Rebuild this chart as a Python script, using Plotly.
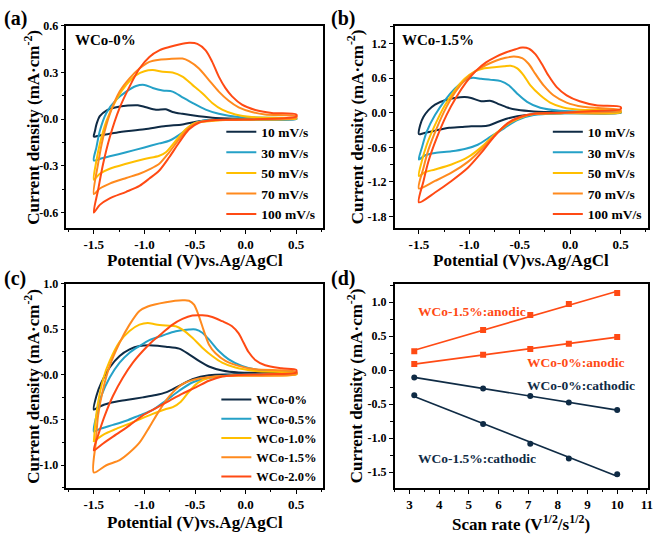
import numpy as np
import plotly.graph_objects as go

W, H = 661, 534
FONT = "Liberation Serif"

NAVY = "#0f2b45"
TEAL = "#25a1c7"
YELLOW = "#ffbf00"
ORANGE = "#ff8a1e"
RED = "#ff4a14"
COLORS5 = [NAVY, TEAL, YELLOW, ORANGE, RED]

# ---------------- panel (a) : WCo-0%, scan rates ----------------
rate_labels = ["10 mV/s", "30 mV/s", "50 mV/s", "70 mV/s", "100 mV/s"]

a10_v = [-1.5, -1.49, -1.474, -1.441, -1.376, -1.278, -1.163, -1.065, -0.984, -0.886, -0.788, -0.722, -0.624, -0.461, -0.297, 0.029, 0.5,
         0.5, -0.297, -0.46, -0.624, -0.788, -1.0, -1.278, -1.44, -1.5]
a10_j = [-0.112, -0.08, -0.034, 0.019, 0.055, 0.076, 0.087, 0.089, 0.076, 0.061, 0.063, 0.046, 0.034, 0.019, 0.008, 0.002, 0.002,
         0.0, -0.002, -0.013, -0.034, -0.044, -0.065, -0.087, -0.105, -0.112]

a30_v = [-1.5, -1.474, -1.441, -1.376, -1.278, -1.18, -1.082, -1.0, -0.918, -0.82, -0.722, -0.624, -0.526, -0.395, -0.265, -0.069, 0.5,
         0.5, -0.134, -0.428, -0.526, -0.624, -0.755, -0.853, -1.0, -1.18, -1.343, -1.441, -1.5]
a30_j = [-0.266, -0.18, -0.076, 0.04, 0.125, 0.177, 0.213, 0.22, 0.2, 0.184, 0.177, 0.14, 0.104, 0.061, 0.034, 0.013, 0.004,
         0.0, -0.004, -0.011, -0.034, -0.087, -0.139, -0.156, -0.182, -0.213, -0.239, -0.256, -0.266]

a50_v = [-1.5, -1.474, -1.441, -1.376, -1.278, -1.18, -1.082, -1.0, -0.918, -0.82, -0.722, -0.624, -0.526, -0.428, -0.33, -0.232, -0.101, 0.062, 0.5,
         0.5, -0.134, -0.363, -0.493, -0.592, -0.69, -0.788, -0.853, -1.0, -1.18, -1.343, -1.441, -1.5]
a50_j = [-0.389, -0.266, -0.16, -0.013, 0.125, 0.22, 0.283, 0.308, 0.315, 0.304, 0.3, 0.273, 0.22, 0.167, 0.104, 0.061, 0.03, 0.013, 0.004,
         0.002, -0.004, -0.013, -0.023, -0.065, -0.139, -0.213, -0.235, -0.256, -0.287, -0.319, -0.351, -0.389]

a70_v = [-1.5, -1.458, -1.408, -1.343, -1.245, -1.147, -1.049, -0.951, -0.853, -0.755, -0.624, -0.559, -0.461, -0.363, -0.265, -0.167, -0.069, 0.062, 0.193, 0.5,
         0.5, -0.134, -0.461, -0.559, -0.657, -0.755, -0.853, -0.951, -1.049, -1.18, -1.343, -1.441, -1.5]
a70_j = [-0.482, -0.287, -0.118, 0.03, 0.177, 0.262, 0.325, 0.368, 0.382, 0.387, 0.389, 0.372, 0.325, 0.251, 0.177, 0.118, 0.076, 0.046, 0.03, 0.019,
         0.008, -0.004, -0.019, -0.055, -0.129, -0.213, -0.287, -0.323, -0.351, -0.378, -0.414, -0.446, -0.482]

a100_v = [-1.5, -1.458, -1.408, -1.343, -1.245, -1.147, -1.049, -0.951, -0.853, -0.755, -0.657, -0.559, -0.477, -0.395, -0.33, -0.265, -0.199, -0.134, -0.036, 0.095, 0.258, 0.5,
          0.5, -0.134, -0.297, -0.461, -0.559, -0.657, -0.755, -0.853, -0.951, -1.049, -1.18, -1.343, -1.441, -1.5]
a100_j = [-0.6, -0.456, -0.287, -0.118, 0.072, 0.209, 0.325, 0.4, 0.442, 0.463, 0.48, 0.49, 0.484, 0.442, 0.368, 0.273, 0.199, 0.146, 0.093, 0.059, 0.04, 0.03,
          0.017, -0.004, -0.006, -0.023, -0.065, -0.15, -0.245, -0.33, -0.382, -0.429, -0.467, -0.509, -0.551, -0.6]

# ---------------- panel (b) : WCo-1.5%, scan rates ----------------
b10_v = [-1.5, -1.487, -1.454, -1.405, -1.34, -1.242, -1.144, -1.046, -0.981, -0.883, -0.785, -0.72, -0.622, -0.524, -0.361, -0.1, 0.5,
         0.5, -0.1, -0.361, -0.524, -0.622, -0.72, -0.8, -0.883, -0.98, -1.08, -1.2, -1.34, -1.454, -1.5]
b10_j = [-0.37, -0.21, -0.07, 0.046, 0.143, 0.217, 0.257, 0.274, 0.257, 0.2, 0.206, 0.16, 0.091, 0.051, 0.023, 0.011, 0.011,
         0.0, -0.006, -0.025, -0.06, -0.1, -0.16, -0.215, -0.235, -0.232, -0.246, -0.26, -0.31, -0.355, -0.37]

b30_v = [-1.5, -1.471, -1.422, -1.34, -1.242, -1.144, -1.046, -0.965, -0.883, -0.785, -0.688, -0.606, -0.524, -0.427, -0.296, -0.1, 0.5,
         0.5, -0.1, -0.361, -0.524, -0.655, -0.785, -0.916, -1.046, -1.177, -1.34, -1.438, -1.5]
b30_j = [-0.81, -0.61, -0.326, -0.04, 0.217, 0.417, 0.56, 0.606, 0.589, 0.571, 0.549, 0.474, 0.331, 0.189, 0.086, 0.034, 0.006,
         0.0, -0.011, -0.04, -0.126, -0.269, -0.411, -0.554, -0.629, -0.669, -0.697, -0.737, -0.81]

b50_v = [-1.5, -1.471, -1.422, -1.34, -1.242, -1.144, -1.046, -0.949, -0.851, -0.753, -0.655, -0.59, -0.524, -0.459, -0.394, -0.296, -0.198, -0.068, 0.095, 0.5,
         0.5, -0.1, -0.361, -0.492, -0.622, -0.753, -0.883, -1.014, -1.177, -1.34, -1.438, -1.5]
b50_j = [-1.097, -0.84, -0.554, -0.211, 0.131, 0.389, 0.589, 0.714, 0.771, 0.789, 0.806, 0.817, 0.771, 0.646, 0.474, 0.303, 0.177, 0.091, 0.051, 0.029,
         0.006, -0.006, -0.023, -0.086, -0.2, -0.383, -0.6, -0.771, -0.897, -0.983, -1.03, -1.097]

b70_v = [-1.5, -1.454, -1.405, -1.324, -1.226, -1.128, -1.03, -0.932, -0.834, -0.737, -0.639, -0.557, -0.476, -0.41, -0.345, -0.263, -0.166, -0.035, 0.128, 0.5,
         0.5, -0.1, -0.361, -0.492, -0.622, -0.753, -0.883, -1.014, -1.177, -1.34, -1.5]
b70_j = [-1.314, -0.954, -0.64, -0.269, 0.103, 0.389, 0.589, 0.731, 0.829, 0.903, 0.954, 0.977, 0.949, 0.846, 0.674, 0.474, 0.303, 0.177, 0.103, 0.046,
         0.029, -0.006, -0.023, -0.08, -0.194, -0.4, -0.64, -0.851, -1.04, -1.183, -1.314]

b100_v = [-1.5, -1.454, -1.405, -1.324, -1.226, -1.128, -1.03, -0.932, -0.834, -0.737, -0.639, -0.541, -0.476, -0.41, -0.345, -0.28, -0.215, -0.133, -0.035, 0.095, 0.259, 0.5,
          0.5, 0.226, -0.1, -0.361, -0.492, -0.622, -0.753, -0.883, -1.014, -1.177, -1.34, -1.5]
b100_j = [-1.554, -1.183, -0.84, -0.44, -0.04, 0.274, 0.531, 0.731, 0.874, 0.971, 1.046, 1.103, 1.131, 1.114, 1.017, 0.846, 0.646, 0.446, 0.303, 0.2, 0.131, 0.103,
          0.063, 0.029, 0.0, -0.017, -0.069, -0.183, -0.411, -0.697, -0.954, -1.183, -1.383, -1.554]

# ---------------- panel (c) : different Co contents ----------------
sample_labels = ["WCo-0%", "WCo-0.5%", "WCo-1.0%", "WCo-1.5%", "WCo-2.0%"]

c00_v = [-1.5, -1.474, -1.425, -1.343, -1.245, -1.147, -1.049, -0.918, -0.788, -0.657, -0.559, -0.461, -0.363, -0.232, -0.069, 0.5,
         0.5, -0.134, -0.363, -0.526, -0.657, -0.788, -0.886, -1.016, -1.18, -1.343, -1.458, -1.5]
c00_j = [-0.387, -0.234, -0.088, 0.077, 0.204, 0.277, 0.314, 0.321, 0.307, 0.285, 0.223, 0.15, 0.088, 0.044, 0.022, 0.015,
         0.004, 0.0, -0.007, -0.051, -0.124, -0.197, -0.226, -0.252, -0.281, -0.314, -0.361, -0.387]

c05_v = [-1.5, -1.474, -1.425, -1.343, -1.245, -1.147, -1.049, -0.951, -0.82, -0.69, -0.559, -0.493, -0.428, -0.363, -0.265, -0.167, -0.036, 0.127, 0.5,
         0.5, 0.029, -0.232, -0.395, -0.526, -0.657, -0.788, -0.918, -1.049, -1.18, -1.31, -1.441, -1.5]
c05_j = [-0.628, -0.453, -0.234, -0.033, 0.131, 0.241, 0.314, 0.38, 0.431, 0.478, 0.496, 0.496, 0.46, 0.387, 0.259, 0.168, 0.095, 0.051, 0.022,
         0.007, 0.0, -0.015, -0.044, -0.088, -0.179, -0.288, -0.39, -0.45, -0.51, -0.555, -0.599, -0.628]

c10_v = [-1.5, -1.484, -1.458, -1.408, -1.343, -1.245, -1.147, -1.049, -0.967, -0.886, -0.788, -0.69, -0.624, -0.526, -0.428, -0.33, -0.232, -0.101, 0.095, 0.5,
         0.5, -0.134, -0.363, -0.47, -0.56, -0.64, -0.72, -0.8, -0.918, -1.114, -1.278, -1.408, -1.5]
c10_j = [-0.745, -0.526, -0.307, -0.051, 0.15, 0.36, 0.48, 0.55, 0.569, 0.551, 0.54, 0.533, 0.496, 0.405, 0.296, 0.204, 0.131, 0.077, 0.04, 0.015,
         0.0, -0.011, -0.035, -0.09, -0.19, -0.3, -0.36, -0.385, -0.434, -0.526, -0.599, -0.664, -0.737]

c15_v = [-1.5, -1.48, -1.458, -1.408, -1.343, -1.245, -1.147, -1.049, -0.967, -0.788, -0.624, -0.559, -0.51, -0.461, -0.412, -0.363, -0.297, -0.199, -0.069, 0.095, 0.5,
         0.5, -0.232, -0.461, -0.624, -0.755, -0.853, -0.951, -1.049, -1.147, -1.245, -1.376, -1.5]
c15_j = [-1.08, -0.745, -0.453, -0.161, 0.095, 0.35, 0.55, 0.7, 0.75, 0.796, 0.818, 0.814, 0.77, 0.642, 0.478, 0.332, 0.234, 0.15, 0.095, 0.058, 0.029,
         0.004, -0.015, -0.044, -0.106, -0.241, -0.398, -0.58, -0.752, -0.861, -0.945, -1.0, -1.08]

c20_v = [-1.5, -1.458, -1.392, -1.31, -1.212, -1.114, -1.016, -0.918, -0.82, -0.722, -0.624, -0.526, -0.428, -0.33, -0.232, -0.134, -0.069, -0.02, 0.029, 0.095, 0.193, 0.356, 0.5,
         0.5, 0.193, -0.069, -0.232, -0.363, -0.493, -0.624, -0.755, -0.886, -1.016, -1.147, -1.278, -1.408, -1.5]
c20_j = [-0.836, -0.672, -0.453, -0.234, -0.033, 0.131, 0.259, 0.369, 0.46, 0.551, 0.613, 0.65, 0.653, 0.635, 0.588, 0.533, 0.453, 0.35, 0.248, 0.161, 0.102, 0.069, 0.051,
         0.022, 0.004, -0.004, -0.022, -0.069, -0.142, -0.21, -0.29, -0.37, -0.45, -0.56, -0.66, -0.76, -0.836]

# ---------------- panel (d) : peak current vs sqrt(scan rate) ----------------
sqrt_rate = [3.16, 5.48, 7.07, 8.37, 10.0]
d_15_anodic = [0.28, 0.59, 0.81, 0.975, 1.135]
d_00_anodic = [0.09, 0.227, 0.313, 0.39, 0.49]
d_00_cathodic = [-0.107, -0.267, -0.378, -0.475, -0.586]
d_15_cathodic = [-0.368, -0.789, -1.08, -1.297, -1.53]

# tick labels
cv_x_ticks = [-1.5, -1.0, -0.5, 0.0, 0.5]
cv_x_text = ["-1.5", "-1.0", "-0.5", "0.0", "0.5"]
a_y_ticks = [0.6, 0.3, 0.0, -0.3, -0.6]
a_y_text = ["0.6", "0.3", "0.0", "-0.3", "-0.6"]
b_y_ticks = [1.2, 0.6, 0.0, -0.6, -1.2, -1.8]
b_y_text = ["1.2", "0.6", "0.0", "-0.6", "-1.2", "-1.8"]
c_y_ticks = [1.0, 0.5, 0.0, -0.5, -1.0]
c_y_text = ["1.0", "0.5", "0.0", "-0.5", "-1.0"]
d_x_ticks = [3, 4, 5, 6, 7, 8, 9, 10, 11]
d_x_text = ["3", "4", "5", "6", "7", "8", "9", "10", "11"]
d_y_ticks = [1.0, 0.5, 0.0, -0.5, -1.0, -1.5]
d_y_text = ["1.0", "0.5", "0.0", "-0.5", "-1.0", "-1.5"]


def px(x):
    return x / W


def py(y):
    return 1 - y / H


fig = go.Figure()

panel_a = [(a10_v, a10_j), (a30_v, a30_j), (a50_v, a50_j), (a70_v, a70_j), (a100_v, a100_j)]
panel_b = [(b10_v, b10_j), (b30_v, b30_j), (b50_v, b50_j), (b70_v, b70_j), (b100_v, b100_j)]
panel_c = [(c00_v, c00_j), (c05_v, c05_j), (c10_v, c10_j), (c15_v, c15_j), (c20_v, c20_j)]

for (v, j), lab, col in zip(panel_a, rate_labels, COLORS5):
    fig.add_trace(go.Scatter(x=v, y=j, mode="lines", name=lab, xaxis="x", yaxis="y",
                             line=dict(color=col, width=2, shape="spline", smoothing=0.8),
                             legend="legend"))
for (v, j), lab, col in zip(panel_b, rate_labels, COLORS5):
    fig.add_trace(go.Scatter(x=v, y=j, mode="lines", name=lab, xaxis="x2", yaxis="y2",
                             line=dict(color=col, width=2, shape="spline", smoothing=0.8),
                             legend="legend2"))
for (v, j), lab, col in zip(panel_c, sample_labels, COLORS5):
    fig.add_trace(go.Scatter(x=v, y=j, mode="lines", name=lab, xaxis="x3", yaxis="y3",
                             line=dict(color=col, width=2, shape="spline", smoothing=0.8),
                             legend="legend3"))

d_series = [(d_15_anodic, RED, "square"), (d_00_anodic, RED, "square"),
            (d_00_cathodic, NAVY, "circle"), (d_15_cathodic, NAVY, "circle")]
xs = np.array(sqrt_rate)
for vals, col, sym in d_series:
    k, b = np.polyfit(xs, np.array(vals), 1)
    fx = np.array([xs.min(), xs.max()])
    fig.add_trace(go.Scatter(x=fx, y=k * fx + b, mode="lines", xaxis="x4", yaxis="y4",
                             line=dict(color=col, width=1.6), showlegend=False, hoverinfo="skip"))
    fig.add_trace(go.Scatter(x=sqrt_rate, y=vals, mode="markers", xaxis="x4", yaxis="y4",
                             marker=dict(color=col, symbol=sym, size=6), showlegend=False))

xtickfont = dict(family=FONT, size=13, color="black", weight="bold")
ytickfont = dict(family=FONT, size=12, color="black", weight="bold")
titlefont = dict(family=FONT, size=17, color="black", weight="bold")


def ax(dom, anchor, rng, tv, tt, dminor, tf):
    return dict(domain=dom, anchor=anchor, range=rng, tickvals=tv, ticktext=tt,
                showline=True, linecolor="black", linewidth=1.6, mirror=True,
                ticks="outside", ticklen=4, tickwidth=1.4, tickcolor="black",
                minor=dict(ticks="outside", ticklen=2.5, tickwidth=1.2, tickcolor="black", dtick=dminor, showgrid=False),
                showgrid=False, zeroline=False, tickfont=tf)


XL = [px(67), px(325)]
XR = [px(397.7), px(652.7)]
YT = [py(224), py(19)]
YB = [py(487.3), py(280.5)]

pot_title = "Potential (V)vs.Ag/AgCl"
cur_title = "Current density (mA·cm<sup>-2</sup>)"
rate_title = "Scan rate (V<sup>1/2</sup>/s<sup>1/2</sup>)"

legfont_ab = dict(family=FONT, size=13.5, weight="bold", color="black")
legfont_c = dict(family=FONT, size=12.5, weight="bold", color="black")

fig.update_layout(
    width=W, height=H, margin=dict(l=0, r=0, t=0, b=0),
    paper_bgcolor="white", plot_bgcolor="white",
    font=dict(family=FONT, color="black", weight="bold"),
    xaxis=ax(XL, "y", [-1.77, 0.76], cv_x_ticks, cv_x_text, 0.25, xtickfont),
    yaxis=ax(YT, "x", [-0.7, 0.6], a_y_ticks, a_y_text, 0.15, ytickfont),
    xaxis2=ax(XR, "y2", [-1.74, 0.77], cv_x_ticks, cv_x_text, 0.25, xtickfont),
    yaxis2=ax(YT, "x2", [-2.0, 1.51], b_y_ticks, b_y_text, 0.3, ytickfont),
    xaxis3=ax(XL, "y3", [-1.77, 0.76], cv_x_ticks, cv_x_text, 0.25, xtickfont),
    yaxis3=ax(YB, "x3", [-1.25, 1.0], c_y_ticks, c_y_text, 0.25, ytickfont),
    xaxis4=ax(XR, "y4", [2.5, 11.03], d_x_ticks, d_x_text, 0.5, xtickfont),
    yaxis4=ax(YB, "x4", [-1.73, 1.27], d_y_ticks, d_y_text, 0.25, ytickfont),
    legend=dict(x=px(223), y=py(111), xanchor="left", yanchor="top", bgcolor="rgba(0,0,0,0)",
                font=legfont_ab, tracegroupgap=0, itemwidth=30),
    legend2=dict(x=px(552), y=py(111), xanchor="left", yanchor="top", bgcolor="rgba(0,0,0,0)",
                 font=legfont_ab, tracegroupgap=0, itemwidth=30),
    legend3=dict(x=px(218), y=py(383), xanchor="left", yanchor="top", bgcolor="rgba(0,0,0,0)",
                 font=legfont_c, tracegroupgap=0, itemwidth=30),
    showlegend=True,
)

ann = []
# axis titles
for txt, x, y in [(pot_title, 196, 257), (pot_title, 525, 257), (pot_title, 196, 522), (rate_title, 525, 523)]:
    ann.append(dict(text=txt, x=px(x), y=py(y), xref="paper", yref="paper", xanchor="center", yanchor="middle",
                    showarrow=False, font=titlefont))
for x, y in [(32, 121.5), (358, 121.5), (32, 384), (358, 384)]:
    ann.append(dict(text=cur_title, x=px(x), y=py(y), xref="paper", yref="paper", xanchor="center", yanchor="middle",
                    textangle=-90, showarrow=False, font=titlefont))
# panel letters
for lab, x, y in [("(a)", 2, 12), ("(b)", 332, 12), ("(c)", 2, 275), ("(d)", 332, 275)]:
    ann.append(dict(text=lab, x=px(x), y=py(y), xref="paper", yref="paper", xanchor="left", yanchor="middle",
                    showarrow=False, font=dict(family=FONT, size=20, color="black", weight="bold")))
ann.append(dict(text="WCo-0%", x=px(74), y=py(33), xref="paper", yref="paper", xanchor="left", yanchor="middle",
                showarrow=False, font=dict(family=FONT, size=15, color="black", weight="bold")))
ann.append(dict(text="WCo-1.5%", x=px(403), y=py(33), xref="paper", yref="paper", xanchor="left", yanchor="middle",
                showarrow=False, font=dict(family=FONT, size=15, color="black", weight="bold")))
for lab, x, y, col in [("WCo-1.5%:anodic", 419, 308.7, RED), ("WCo-0%:anodic", 529, 360, RED),
                       ("WCo-0%:cathodic", 529, 384, NAVY), ("WCo-1.5%:cathodic", 419, 457, NAVY)]:
    ann.append(dict(text=lab, x=px(x), y=py(y), xref="paper", yref="paper", xanchor="left", yanchor="middle",
                    showarrow=False, font=dict(family=FONT, size=13.5, color=col, weight="bold")))
fig.update_layout(annotations=ann)

fig.write_html("out.html")
